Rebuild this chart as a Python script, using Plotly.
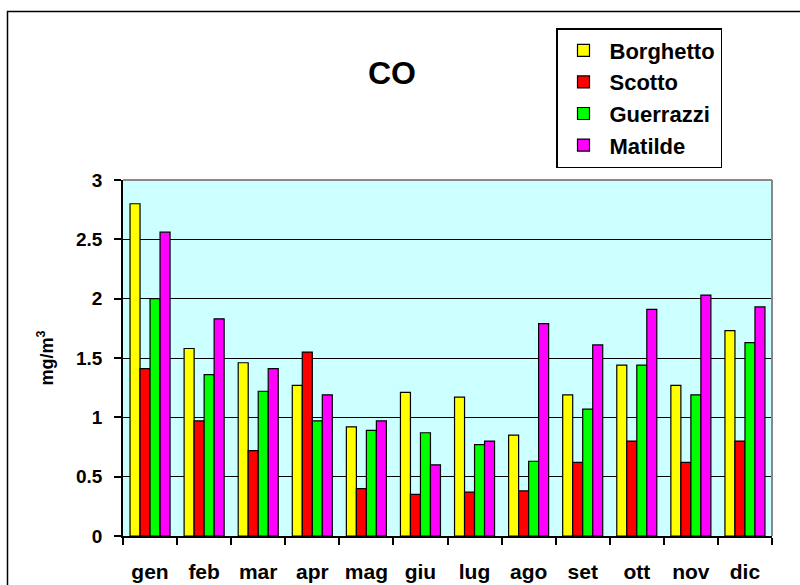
import plotly.graph_objects as go

months = ["gen", "feb", "mar", "apr", "mag", "giu", "lug", "ago", "set", "ott", "nov", "dic"]
borghetto = [2.80, 1.58, 1.46, 1.27, 0.92, 1.21, 1.17, 0.85, 1.19, 1.44, 1.27, 1.73]
scotto = [1.41, 0.97, 0.72, 1.55, 0.40, 0.35, 0.37, 0.38, 0.62, 0.80, 0.62, 0.80]
guerrazzi = [2.00, 1.36, 1.22, 0.97, 0.89, 0.87, 0.77, 0.63, 1.07, 1.44, 1.19, 1.63]
matilde = [2.56, 1.83, 1.41, 1.19, 0.97, 0.60, 0.80, 1.79, 1.61, 1.91, 2.03, 1.93]

series_names = ["Borghetto", "Scotto", "Guerrazzi", "Matilde"]
series_values = [borghetto, scotto, guerrazzi, matilde]
series_colors = ["#FFFF00", "#FF0000", "#00FF00", "#FF00FF"]

FONT = "Arial, Liberation Sans, sans-serif"

fig = go.Figure()
for i, (name, vals, col) in enumerate(zip(series_names, series_values, series_colors)):
    fig.add_trace(go.Bar(
        x=months, y=vals, name=name,
        marker=dict(color=col, line=dict(color="black", width=1.2)),
        legendgroup=f"g{i}",
    ))

W, H = 800, 585
L, R, T, B = 123, 28, 180, 49
pw, ph = W - L - R, H - T - B

def px_x(p):
    return (p - L) / pw

def px_y(p):
    return (H - B - p) / ph

fig.update_layout(
    width=W, height=H,
    margin=dict(l=L, r=R, t=T, b=B, autoexpand=False),
    paper_bgcolor="white",
    plot_bgcolor="#CCFFFF",
    barmode="group",
    bargap=0.26,
    bargroupgap=0,
    font=dict(family=FONT, color="black", size=16),
    title=dict(text="<b>CO</b>", x=0.49, xanchor="center", y=1 - 73 / H, yanchor="middle",
               font=dict(size=32, family=FONT, color="black")),
    legend=dict(
        x=px_x(556), y=px_y(28), xanchor="left", yanchor="top",
        bordercolor="black", borderwidth=1.5, bgcolor="white",
        font=dict(size=22, family=FONT, color="black", weight="bold"),
        tracegroupgap=0,
        itemwidth=42,
    ),
    xaxis=dict(
        type="category",
        automargin=False,
        showline=True, linecolor="black", linewidth=1.5,
        ticks="outside", ticklen=7, tickcolor="black", tickwidth=1.5,
        tickson="boundaries",
        showgrid=False,
        ticklabelstandoff=16,
        tickfont=dict(size=21, family=FONT, color="black", weight="bold"),
    ),
    yaxis=dict(
        automargin=False,
        range=[0, 3], dtick=0.5, tick0=0,
        showline=True, linecolor="black", linewidth=1.5,
        ticks="outside", ticklen=7, tickcolor="black", tickwidth=1.5,
        showgrid=True, gridcolor="black", gridwidth=1,
        zeroline=False,
        ticklabelstandoff=8,
        tickfont=dict(size=19, family=FONT, color="black", weight="bold"),
        title=dict(text="<b>mg/m<sup>3</sup></b>", standoff=18,
                   font=dict(size=18, family=FONT, color="black")),
    ),
    showlegend=True,
    shapes=[
        dict(type="line", xref="paper", yref="paper", x0=0, x1=1, y0=1, y1=1,
             line=dict(color="#888888", width=2), layer="above"),
        dict(type="line", xref="paper", yref="paper", x0=1, x1=1, y0=0, y1=1,
             line=dict(color="#888888", width=2), layer="above"),
        dict(type="rect", xref="paper", yref="paper",
             x0=px_x(7.5), x1=px_x(820), y0=px_y(620), y1=px_y(11.5),
             line=dict(color="black", width=1.5), fillcolor="rgba(0,0,0,0)", layer="below"),
    ],
)

fig.write_html(
    "out.html",
    config={"displayModeBar": False},
    post_script="document.body.style.margin='0';document.body.style.overflow='hidden';",
)
